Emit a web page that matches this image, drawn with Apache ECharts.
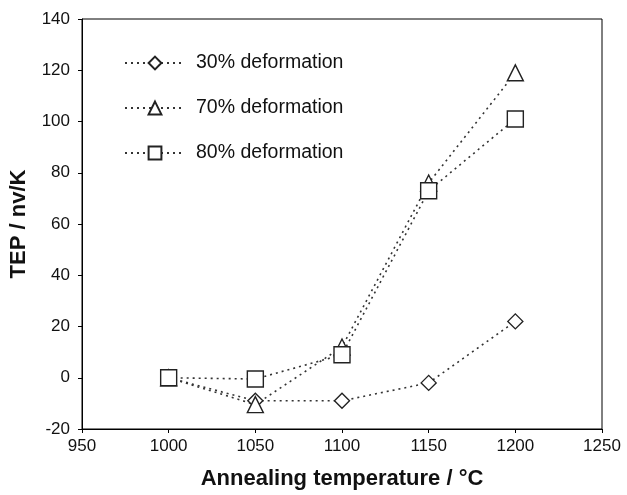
<!DOCTYPE html>
<html>
<head>
<meta charset="utf-8">
<script src="https://cdn.jsdelivr.net/npm/echarts@6/dist/echarts.min.js"></script>
<style>
html, body { margin: 0; padding: 0; background: #fff; }
#main { width: 627px; height: 495px; }
</style>
</head>
<body>
<div id="main"></div>
<script>
var temps = [1000, 1050, 1100, 1150, 1200];
var def30 = [0, -9, -9, -2, 22];
var def70 = [0, -10.5, 12, 76, 119];
var def80 = [0, -0.5, 9, 73, 101];

function pairs(vals) {
    return temps.map(function(t, i) { return [t, vals[i]]; });
}

function makeSeries(name, vals, symbol, size) {
    return {
        name: name,
        type: 'line',
        data: pairs(vals),
        symbol: symbol,
        symbolSize: size,
        showAllSymbol: true,
        lineStyle: { type: [2, 4], width: 1.6, color: '#333' },
        itemStyle: { color: '#fff', borderColor: '#222', borderWidth: 1.4 },
        z: 3
    };
}

var chart = echarts.init(document.getElementById('main'));
var font = 'Liberation Sans, Arial, sans-serif';
var option = {
    animation: false,
    textStyle: { fontFamily: font },
    grid: {
        left: 81, right: 25, top: 19, bottom: 63,
        show: true, borderColor: '#000', borderWidth: 1
    },
    legend: {
        orient: 'vertical',
        left: 124,
        top: 53,
        padding: 0,
        itemWidth: 60,
        itemHeight: 16,
        itemGap: 25,
        textStyle: { fontSize: 19.5, color: '#111', fontFamily: font, padding: [0, 0, 0, 6] },
        data: ['30% deformation', '70% deformation', '80% deformation']
    },
    xAxis: {
        type: 'value',
        min: 950, max: 1250, interval: 50,
        name: 'Annealing temperature / °C',
        nameLocation: 'middle',
        nameGap: 39,
        nameTextStyle: { fontSize: 22, fontWeight: 'bold', color: '#111' },
        axisLine: { onZero: false, lineStyle: { color: '#000' } },
        axisTick: { length: 4, lineStyle: { color: '#000' } },
        axisLabel: { fontSize: 17, color: '#111', margin: 9, formatter: function(v) { return String(v); } },
        splitLine: { show: false }
    },
    yAxis: {
        type: 'value',
        min: -20, max: 140, interval: 20,
        name: 'TEP / nv/K',
        nameLocation: 'middle',
        nameGap: 52,
        nameTextStyle: { fontSize: 22, fontWeight: 'bold', color: '#111' },
        axisLine: { show: true, onZero: false, lineStyle: { color: '#000' } },
        axisTick: { show: true, length: 4, lineStyle: { color: '#000' } },
        axisLabel: { fontSize: 17, color: '#111', margin: 12 },
        splitLine: { show: false }
    },
    series: [
        makeSeries('30% deformation', def30, 'diamond', 15),
        makeSeries('70% deformation', def70, 'triangle', 16),
        makeSeries('80% deformation', def80, 'rect', 16)
    ]
};
chart.setOption(option);
</script>
</body>
</html>
